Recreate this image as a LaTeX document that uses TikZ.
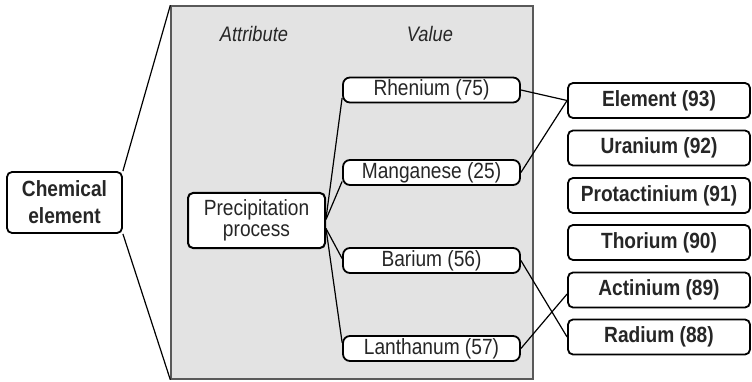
\documentclass[tikz,border=0pt]{standalone}
\usepackage{fontspec}
\setmainfont{Liberation Sans}[FakeStretch=0.87]
\begin{document}
\begin{tikzpicture}[x=1pt,y=-1pt,
  every node/.style={text=black!85},
  panel/.style={draw=black!65, line width=1.4pt, fill=black!11, minimum width=362pt, minimum height=373pt, inner sep=0pt},
  head/.style={font=\itshape\fontsize{21}{21}\selectfont},
  valbox/.style={draw=black, line width=1.8pt, fill=white, rounded corners=7pt,
    minimum width=177pt, minimum height=25pt, inner sep=0pt,
    font=\fontsize{22}{22}\selectfont},
  elbox/.style={draw=black, line width=1.8pt, fill=white, rounded corners=5pt,
    minimum width=182pt, minimum height=35pt, inner sep=0pt,
    font=\bfseries\fontsize{22}{22}\selectfont},
  link/.style={draw=black, line width=1.2pt}]
\useasboundingbox (0,0) rectangle (752,382);

% attribute / value panel
\node[panel] (panel) at (352,192.5) {};
\node[head] (attr) at (254,34) {Attribute};
\node[head] (val) at (430,34) {Value};

% concept on the left
\node[draw=black, line width=1.8pt, fill=white, rounded corners=5pt,
  minimum width=115pt, minimum height=61pt, inner sep=0pt, align=center,
  font=\bfseries\fontsize{22}{27}\selectfont] (chem) at (64.5,202.5) {Chemical\\element};
\draw[link] (chem.north east) -- (panel.north west);
\draw[link] (chem.south east) -- (panel.south west);

% attribute
\node[draw=black, line width=2pt, fill=white, rounded corners=5pt,
  minimum width=137pt, minimum height=55pt, inner sep=0pt, align=center,
  font=\fontsize{22}{21.5}\selectfont] (prec) at (256.5,220.5) {Precipitation\\process};

% values
\node[valbox] (rhen) at (431.5,90) {Rhenium (75)};
\node[valbox] (mang) at (431.5,172.5) {Manganese (25)};
\node[valbox] (bar) at (431.5,260.5) {Barium (56)};
\node[valbox] (lan) at (431.5,348.5) {Lanthanum (57)};

% elements on the right
\node[elbox] (e93) at (659,100.5) {Element (93)};
\node[elbox] (e92) at (659,148) {Uranium (92)};
\node[elbox] (e91) at (659,195.5) {Protactinium (91)};
\node[elbox] (e90) at (659,242.5) {Thorium (90)};
\node[elbox] (e89) at (659,290) {Actinium (89)};
\node[elbox] (e88) at (659,337) {Radium (88)};

% attribute to values
\draw[link] ([yshift=2pt]prec.east) -- ([yshift=-8pt]rhen.west);
\draw[link] ([yshift=1pt]prec.east) -- ([yshift=-9pt]mang.west);
\draw[link] ([yshift=-8pt]prec.east) -- ([yshift=2pt]bar.west);
\draw[link] ([yshift=-8pt]prec.east) -- ([yshift=6pt]lan.west);

% values to elements
\draw[link] (rhen.east) -- (e93.west);
\draw[link] (mang.east) -- (e93.west);
\draw[link] (bar.east) -- (e88.west);
\draw[link] (lan.east) -- ([yshift=-4pt]e89.west);
\end{tikzpicture}
\end{document}
